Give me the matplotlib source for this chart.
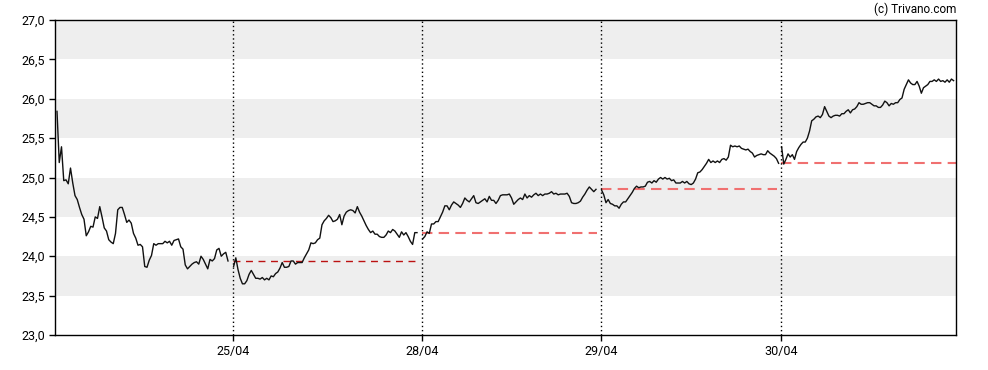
import numpy as np
import matplotlib.pyplot as plt
from matplotlib.ticker import FuncFormatter

# intraday prices, one list per trading day
day1 = [25.84, 25.19, 25.39, 24.96, 24.97, 24.92, 25.12, 24.93, 24.77, 24.72,
        24.62, 24.53, 24.47, 24.26, 24.31, 24.38, 24.37, 24.50, 24.48, 24.63,
        24.50, 24.36, 24.32, 24.21, 24.18, 24.16, 24.29, 24.59, 24.62, 24.62,
        24.53, 24.43, 24.46, 24.42, 24.29, 24.23, 24.14, 24.15, 24.12, 23.87,
        23.86, 23.95, 24.01, 24.16, 24.14, 24.16, 24.16, 24.16, 24.19, 24.17,
        24.19, 24.14, 24.20, 24.21, 24.22, 24.12, 24.09, 23.89, 23.84, 23.87,
        23.90, 23.92, 23.93, 23.90, 24.00, 23.96, 23.90, 23.84, 23.96, 23.94,
        23.97, 24.08, 24.10, 24.00, 24.03, 24.05, 23.94]
day2 = [23.87, 23.98, 23.83, 23.72, 23.65, 23.65, 23.69, 23.77, 23.82, 23.77,
        23.72, 23.72, 23.71, 23.73, 23.70, 23.72, 23.70, 23.75, 23.74, 23.78,
        23.80, 23.85, 23.92, 23.86, 23.86, 23.87, 23.94, 23.94, 23.90, 23.92,
        23.92, 23.92, 23.98, 24.03, 24.08, 24.17, 24.16, 24.17, 24.21, 24.23,
        24.40, 24.45, 24.48, 24.52, 24.49, 24.44, 24.45, 24.47, 24.53, 24.40,
        24.51, 24.56, 24.58, 24.59, 24.58, 24.55, 24.63, 24.56, 24.51, 24.45,
        24.39, 24.34, 24.30, 24.32, 24.28, 24.28, 24.25, 24.24, 24.24, 24.27,
        24.32, 24.30, 24.34, 24.32, 24.28, 24.24, 24.31, 24.27, 24.30, 24.25,
        24.19, 24.15, 24.30, 24.30]
day3 = [24.22, 24.25, 24.31, 24.29, 24.41, 24.41, 24.44, 24.44, 24.50, 24.56,
        24.64, 24.64, 24.59, 24.65, 24.69, 24.67, 24.65, 24.62, 24.67, 24.74,
        24.71, 24.69, 24.73, 24.77, 24.68, 24.67, 24.69, 24.71, 24.73, 24.69,
        24.76, 24.71, 24.71, 24.67, 24.71, 24.77, 24.78, 24.78, 24.78, 24.79,
        24.74, 24.66, 24.69, 24.72, 24.74, 24.72, 24.79, 24.74, 24.77, 24.75,
        24.78, 24.80, 24.77, 24.79, 24.77, 24.79, 24.79, 24.80, 24.82, 24.79,
        24.80, 24.78, 24.79, 24.79, 24.79, 24.80, 24.76, 24.68, 24.67, 24.67,
        24.68, 24.70, 24.75, 24.79, 24.84, 24.88, 24.85, 24.82, 24.85]
day4 = [24.84, 24.78, 24.68, 24.72, 24.67, 24.66, 24.64, 24.64, 24.61, 24.66,
        24.69, 24.69, 24.73, 24.77, 24.81, 24.86, 24.89, 24.87, 24.88, 24.88,
        24.89, 24.94, 24.95, 24.93, 24.96, 24.94, 24.98, 25.00, 24.98, 25.00,
        24.98, 24.99, 24.96, 24.97, 24.93, 24.93, 24.93, 24.95, 24.93, 24.95,
        24.92, 24.91, 24.93, 24.98, 25.06, 25.07, 25.10, 25.14, 25.18, 25.23,
        25.19, 25.21, 25.19, 25.21, 25.19, 25.23, 25.24, 25.22, 25.26, 25.41,
        25.39, 25.40, 25.39, 25.40, 25.37, 25.36, 25.35, 25.36, 25.33, 25.31,
        25.26, 25.28, 25.29, 25.30, 25.29, 25.29, 25.34, 25.31, 25.29, 25.27,
        25.24, 25.18]
day5 = [25.39, 25.17, 25.23, 25.30, 25.26, 25.29, 25.23, 25.33, 25.38, 25.42,
        25.45, 25.45, 25.50, 25.59, 25.72, 25.74, 25.77, 25.78, 25.76, 25.80,
        25.90, 25.84, 25.78, 25.76, 25.78, 25.79, 25.79, 25.78, 25.81, 25.81,
        25.84, 25.86, 25.82, 25.86, 25.87, 25.90, 25.95, 25.93, 25.93, 25.94,
        25.95, 25.95, 25.93, 25.91, 25.91, 25.89, 25.89, 25.92, 25.97, 25.95,
        25.91, 25.94, 25.93, 25.95, 25.95, 25.99, 26.01, 26.12, 26.18, 26.24,
        26.20, 26.18, 26.18, 26.22, 26.16, 26.07, 26.14, 26.16, 26.18, 26.22,
        26.22, 26.24, 26.22, 26.25, 26.22, 26.23, 26.21, 26.24, 26.21, 26.25,
        26.23]
days = [day1, day2, day3, day4, day5]
day_labels = ['', '25/04', '28/04', '29/04', '30/04']
day_slots = [89, 94.5, 89.5, 90, 87.5]  # session length in index units

plt.rcParams['font.family'] = ['Roboto', 'DejaVu Sans']

fig = plt.figure(figsize=(9.88, 3.70), dpi=100)
ax = fig.add_axes([55 / 988, 1 - 335 / 370, 901 / 988, 315 / 370])

# grey bands
for lo in np.arange(23.5, 27, 1.0):
    ax.axhspan(lo, lo + 0.5, color='#eeeeee', lw=0, zorder=0)

starts = np.concatenate([[0], np.cumsum(day_slots)[:-1]])
total = sum(day_slots)

for i, vals in enumerate(days):
    s = starts[i]
    a = 1 if i == 0 else 0.3
    b = day_slots[i] - (2.5 if i in (0, 1, 2) else 1.2)
    x = s + np.linspace(a, b, len(vals))
    ax.plot(x, vals, color='#111111', lw=1.0, zorder=3)
    if i > 0:
        prev_close = days[i - 1][-1]
        end = s + day_slots[i] - (2 if i < 4 else 0)
        if i == 1:
            ax.plot([s, end], [prev_close] * 2, color='#bb1111', lw=1,
                    dashes=(5, 4), zorder=2)
        else:
            ax.plot([s, end], [prev_close] * 2, color='#f07070', lw=1.5,
                    dashes=(5, 3), zorder=2)
        ax.axvline(s, color='black', lw=1, ls=(0, (1, 2)), zorder=4)

ax.set_xlim(0, total)
ax.set_ylim(23, 27)
ax.set_yticks(np.arange(23, 27.01, 0.5))
ax.yaxis.set_major_formatter(FuncFormatter(lambda v, p: f'{v:.1f}'.replace('.', ',')))
ax.set_xticks(starts[1:])
ax.set_xticklabels(day_labels[1:])
ax.tick_params(labelsize=9, length=4, width=1, color='black', pad=3)
for sp in ax.spines.values():
    sp.set_color('black')
    sp.set_linewidth(1)

fig.text(956 / 988, 1 - 9 / 370, '(c) Trivano.com', ha='right', va='center', fontsize=8.5)

fig.savefig('out.png', dpi=100)
